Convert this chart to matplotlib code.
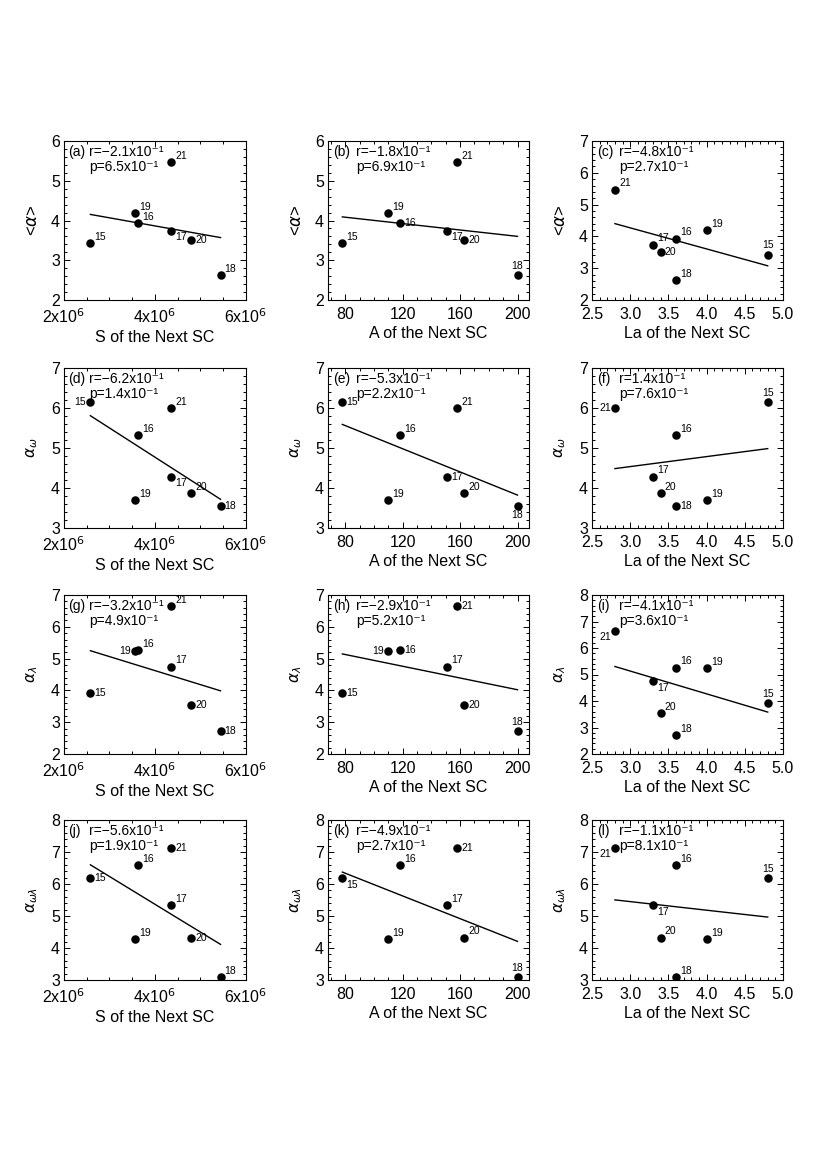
import numpy as np
import matplotlib
matplotlib.use("Agg")
import matplotlib.pyplot as plt
from matplotlib.ticker import MultipleLocator, FixedLocator

plt.rcParams['font.family'] = ['Liberation Sans', 'DejaVu Sans']
plt.rcParams['mathtext.fontset'] = 'dejavusans'

# cycle numbers and the properties of the next cycle
cycles = ['15', '16', '17', '18', '19', '20', '21']
s_next = [2.58e6, 3.62e6, 4.36e6, 5.44e6, 3.56e6, 4.79e6, 4.36e6]
a_next = [78, 118, 151, 200, 110, 163, 158]
la_next = [4.8, 3.6, 3.3, 3.6, 4.0, 3.4, 2.8]

# alpha values per cycle
alpha_mean = [3.43, 3.93, 3.74, 2.62, 4.19, 3.52, 5.47]
alpha_w = [6.15, 5.32, 4.28, 3.56, 3.69, 3.87, 6.0]
alpha_l = [3.91, 5.26, 4.74, 2.71, 5.24, 3.54, 6.64]
alpha_wl = [6.18, 6.59, 5.34, 3.09, 4.28, 4.32, 7.14]

r_text = ['\u22122.1', '\u22121.8', '\u22124.8',
          '\u22126.2', '\u22125.3', '1.4',
          '\u22123.2', '\u22122.9', '\u22124.1',
          '\u22125.6', '\u22124.9', '\u22121.1']
p_text = ['6.5', '6.9', '2.7',
          '1.4', '2.2', '7.6',
          '4.9', '5.2', '3.6',
          '1.9', '2.7', '8.1']

x_sets = [s_next, a_next, la_next]
x_titles = ['S of the Next SC', 'A of the Next SC', 'La of the Next SC']
y_sets = [alpha_mean, alpha_w, alpha_l, alpha_wl]
y_titles = [r'<$\alpha$>', r'$\alpha_{\omega}$', r'$\alpha_{\lambda}$', r'$\alpha_{\omega\lambda}$']
y_limits = [[(2, 6), (2, 6), (2, 7)],
            [(3, 7), (3, 7), (3, 7)],
            [(2, 7), (2, 7), (2, 8)],
            [(3, 8), (3, 8), (3, 8)]]
letters = 'abcdefghijkl'

# where each point label sits relative to its dot (per panel, cycles 15..21)
label_pos = [
    ['r', 'r', 'br', 'r', 'r', 'rc', 'r'],
    ['r', 'rc', 'br', 'a', 'r', 'rc', 'r'],
    ['a', 'r', 'r', 'r', 'r', 'rc', 'r'],
    ['l', 'r', 'br', 'rc', 'r', 'r', 'r'],
    ['rc', 'r', 'rc', 'b', 'r', 'r', 'r'],
    ['a', 'r', 'r', 'rc', 'r', 'r', 'l'],
    ['rc', 'r', 'r', 'rc', 'l', 'rc', 'r'],
    ['rc', 'rc', 'r', 'a', 'l', 'rc', 'rc'],
    ['a', 'r', 'br', 'r', 'r', 'r', 'bl'],
    ['rc', 'r', 'r', 'r', 'r', 'rc', 'rc'],
    ['br', 'r', 'r', 'a', 'r', 'r', 'rc'],
    ['a', 'r', 'br', 'r', 'r', 'r', 'bl'],
]
offsets = {'r': ((3, 1), 'left', 'bottom'), 'rc': ((3, 0), 'left', 'center'),
           'l': ((-3, 0), 'right', 'center'), 'a': ((0, 3), 'center', 'bottom'),
           'b': ((0, -3), 'center', 'top'), 'br': ((3, -1), 'left', 'top'),
           'bl': ((-3, -1), 'right', 'top')}

W, H = 823, 1163
col_left = [64, 328, 592]
col_width = [182, 201, 191]
row_top = [141, 368, 595, 820]
row_height = [159, 160, 159, 160]

fig = plt.figure(figsize=(W / 100, H / 100), dpi=100)

for i in range(4):
    for j in range(3):
        k = i * 3 + j
        ax = fig.add_axes([col_left[j] / W, 1 - (row_top[i] + row_height[i]) / H,
                           col_width[j] / W, row_height[i] / H])
        x = np.array(x_sets[j], dtype=float)
        y = np.array(y_sets[i], dtype=float)
        ax.scatter(x, y, s=26, color='black', zorder=3)
        b, a = np.polyfit(x, y, 1)
        xs = np.array([x.min(), x.max()])
        ax.plot(xs, a + b * xs, color='black', lw=1.0)
        for n, c in enumerate(cycles):
            off, ha, va = offsets[label_pos[k][n]]
            ax.annotate(c, (x[n], y[n]), xytext=off, textcoords='offset points',
                        ha=ha, va=va, fontsize=7.5)
        ax.text(0.025, 0.93, '(%s)' % letters[k], transform=ax.transAxes,
                fontsize=10, va='center', ha='left')
        ax.text(0.14, 0.93, 'r=%sx10\u207b\u00b9' % r_text[k], transform=ax.transAxes,
                fontsize=10, va='center', ha='left')
        ax.text(0.14, 0.835, 'p=%sx10\u207b\u00b9' % p_text[k], transform=ax.transAxes,
                fontsize=10, va='center', ha='left')

        ax.set_ylim(*y_limits[i][j])
        ax.yaxis.set_major_locator(MultipleLocator(1))
        ax.yaxis.set_minor_locator(MultipleLocator(0.2))
        if j == 0:
            ax.set_xlim(2e6, 6e6)
            ax.xaxis.set_major_locator(FixedLocator([2e6, 4e6, 6e6]))
            ax.xaxis.set_minor_locator(MultipleLocator(0.5e6))
            ax.set_xticklabels(['2x10$^6$', '4x10$^6$', '6x10$^6$'])
        elif j == 1:
            ax.set_xlim(68, 208)
            ax.xaxis.set_major_locator(FixedLocator([80, 120, 160, 200]))
            ax.xaxis.set_minor_locator(MultipleLocator(10))
        else:
            ax.set_xlim(2.5, 5.0)
            ax.xaxis.set_major_locator(MultipleLocator(0.5))
            ax.xaxis.set_minor_locator(MultipleLocator(0.1))
            ax.xaxis.set_major_formatter(matplotlib.ticker.FormatStrFormatter('%.1f'))

        ax.tick_params(which='both', direction='in', top=True, right=True, width=0.7)
        ax.tick_params(which='major', length=4.5, labelsize=11.5)
        ax.tick_params(axis='x', which='major', pad=5)
        ax.tick_params(axis='y', which='major', pad=3)
        ax.tick_params(which='minor', length=2)
        for sp in ax.spines.values():
            sp.set_linewidth(0.8)
        ax.set_xlabel(x_titles[j], fontsize=11.5, labelpad=3)
        ax.set_ylabel(y_titles[i], fontsize=12 if i == 0 else 11, labelpad=8)

fig.savefig('out.png', dpi=100)
